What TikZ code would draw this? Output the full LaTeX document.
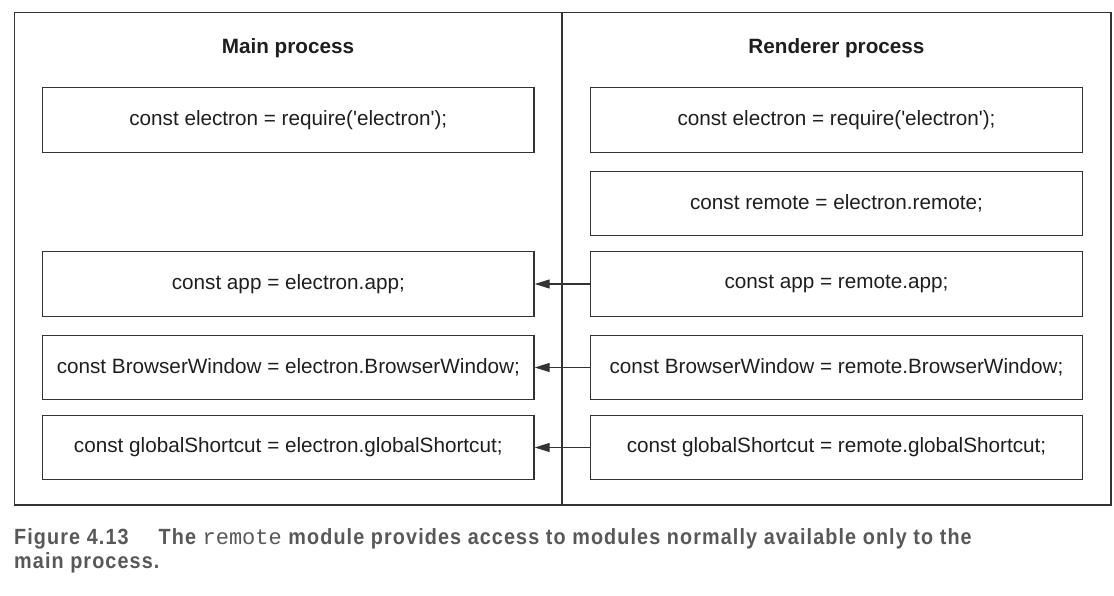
\documentclass[tikz,border=0pt]{standalone}
\usepackage{fontspec}
\setmainfont{Liberation Sans}
\newfontfamily\capfontfam[FakeStretch=0.9,LetterSpace=5]{Liberation Sans}
\newfontfamily\capmonofam{Liberation Mono}
\usetikzlibrary{arrows.meta}
\definecolor{linec}{RGB}{51,51,51}
\definecolor{textc}{RGB}{30,30,30}
\definecolor{capc}{RGB}{88,88,88}
\tikzset{
  codebox/.style={draw=linec, line width=1.3pt, minimum width=491.5pt, minimum height=64.5pt,
    inner sep=0pt, text=textc, font=\fontsize{20.7}{24}\selectfont},
  title/.style={text=textc, font=\fontsize{20.7}{24}\selectfont\bfseries, inner sep=0pt},
  link/.style={draw=linec, line width=1.3pt, -{Triangle[length=15pt,width=9pt]}},
  frame/.style={draw=linec, line width=1.3pt},
  captext/.style={anchor=base west, inner sep=0pt, text=capc,
    font=\fontsize{22}{24}\capfontfam\bfseries}
}
\newcommand{\sq}{\textquotesingle}
\begin{document}
\begin{tikzpicture}[x=1pt,y=-1pt]
\useasboundingbox (0,0) rectangle (1114,595);
\draw[frame] (14.5,12.5) rectangle (1111,505);
\draw[frame] (562,12.5) coordinate (dtop) -- (562,505) coordinate (dbot);
\node[title] (tmain) at (288,48) {Main process};
\node[title] (trend) at (836.5,48) {Renderer process};
% left column
\node[codebox] (l1) at (288.3,120) {const electron = require(\sq electron\sq);};
\node[codebox] (l3) at (288.3,284) {const app = electron.app;};
\node[codebox] (l4) at (288.3,367.5) {const BrowserWindow = electron.BrowserWindow;};
\node[codebox] (l5) at (288.3,447.5) {const globalShortcut = electron.globalShortcut;};
% right column
\node[codebox] (r1) at (836.5,120) {const electron = require(\sq electron\sq);};
\node[codebox] (r2) at (836.5,203.5) {const remote = electron.remote;};
\node[codebox] (r3) at (836.5,284) {const app = remote.app;};
\node[codebox] (r4) at (836.5,367.5) {const BrowserWindow = remote.BrowserWindow;};
\node[codebox] (r5) at (836.5,447.5) {const globalShortcut = remote.globalShortcut;};
% connectors
\draw[link] (r3.west) -- (l3.east);
\draw[link] (r4.west) -- (l4.east);
\draw[link] (r5.west) -- (l5.east);
% caption
\node[captext] (cap1) at (14,544) {Figure 4.13\hspace{30pt}The {\fontsize{22}{24}\capmonofam\mdseries remote} module provides access to modules normally available only to the};
\node[captext] (cap2) at (14,568) {main process.};
\end{tikzpicture}
\end{document}
